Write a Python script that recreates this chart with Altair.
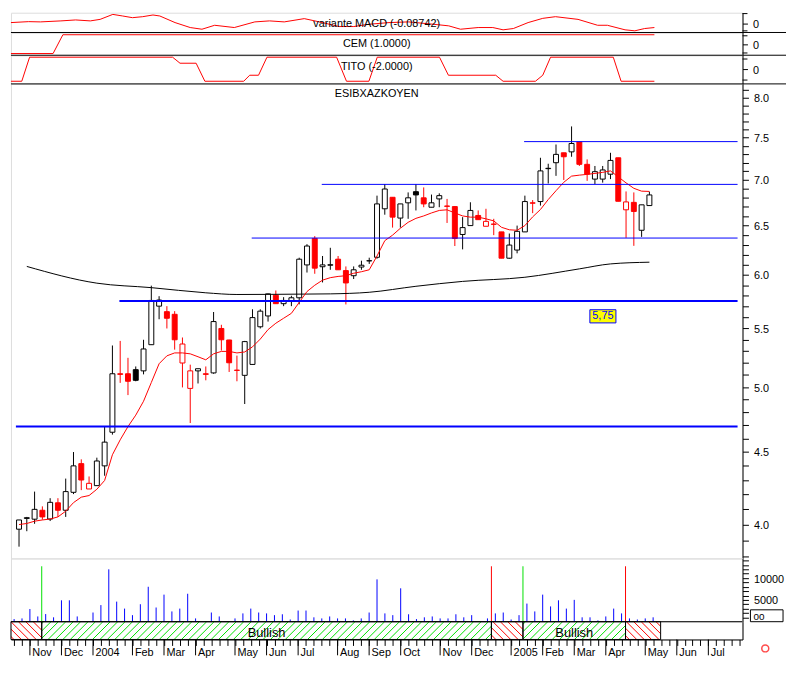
import json
import altair as alt
import numpy as np
import pandas as pd

FONT = "Liberation Sans"

# ---------------- data ----------------
WEEK = list(range(-2, 80))  # weekly candles, week 0 = first week of Nov 2003
OPEN = [3.97, 4.04, 4.035, 4.094, 4.036, 4.144, 4.094, 4.215, 4.416, 4.238,
        4.261, 4.40, 4.647, 5.11, 5.11, 5.144, 5.134, 5.357, 5.703, 5.652,
        5.628, 5.20, 4.99, 5.134, 5.11, 5.117, 5.50, 5.398, 5.14, 5.097,
        5.188, 5.515, 5.613, 5.805, 5.726, 5.748, 5.781, 6.098, 6.366, 6.08,
        6.095, 6.155, 6.042, 5.992, 6.077, 6.138, 6.174, 6.68, 6.806, 6.58,
        6.745, 6.868, 6.80, 6.697, 6.788, 6.71, 6.704, 6.407, 6.50, 6.608,
        6.493, 6.516, 6.434, 6.165, 6.247, 6.434, 6.745, 6.759, 7.13, 7.199,
        7.316, 7.327, 7.446, 7.18, 7.01, 7.01, 7.066, 7.257, 6.669, 6.75,
        6.451, 6.715]
CLOSE = [4.03, 4.045, 4.10, 4.05, 4.147, 4.094, 4.22, 4.40, 4.30, 4.277,
         4.435, 4.573, 5.11, 5.105, 5.048, 5.056, 5.32, 5.756, 5.76, 5.592,
         5.40, 5.363, 5.134, 5.152, 5.105, 5.562, 5.40, 5.202, 5.138, 5.384,
         5.598, 5.657, 5.818, 5.726, 5.756, 5.781, 6.155, 6.288, 6.066, 6.098,
         6.10, 6.05, 5.922, 6.05, 6.095, 6.14, 6.733, 6.898, 6.59, 6.733,
         6.80, 6.832, 6.733, 6.745, 6.824, 6.707, 6.366, 6.479, 6.662, 6.563,
         6.545, 6.514, 6.165, 6.298, 6.44, 6.759, 6.741, 7.104, 7.134, 7.297,
         7.269, 7.427, 7.18, 7.066, 7.095, 7.115, 7.226, 6.762, 6.755, 6.651,
         6.723, 6.832]
HIGH = [4.03, 4.05, 4.22, 4.12, 4.175, 4.175, 4.31, 4.50, 4.447, 4.325,
        4.459, 4.692, 5.35, 5.39, 5.244, 5.171, 5.40, 5.896, 5.796, 5.703,
        5.657, 5.42, 5.186, 5.152, 5.171, 5.649, 5.533, 5.40, 5.263, 5.39,
        5.674, 5.674, 5.82, 5.85, 5.787, 5.80, 6.17, 6.307, 6.39, 6.187,
        6.27, 6.187, 6.083, 6.083, 6.14, 6.17, 6.824, 6.954, 6.806, 6.733,
        6.86, 6.954, 6.916, 6.836, 6.85, 6.788, 6.71, 6.59, 6.751, 6.662,
        6.68, 6.572, 6.434, 6.417, 6.50, 6.824, 6.775, 7.257, 7.187, 7.415,
        7.316, 7.636, 7.446, 7.238, 7.161, 7.161, 7.316, 7.257, 6.871, 6.86,
        6.723, 6.868]
LOW = [3.859, 3.957, 4.005, 4.032, 4.023, 4.05, 4.05, 4.203, 4.23, 4.238,
       4.261, 4.33, 4.629, 5.035, 4.936, 5.048, 5.105, 5.357, 5.583, 5.50,
       5.314, 4.998, 4.717, 5.03, 5.056, 5.11, 5.306, 5.125, 5.048, 4.865,
       5.188, 5.50, 5.562, 5.726, 5.703, 5.703, 5.72, 6.023, 6.011, 5.927,
       6.05, 6.05, 5.719, 5.96, 6.05, 6.108, 6.16, 6.616, 6.479, 6.479,
       6.572, 6.662, 6.697, 6.697, 6.697, 6.528, 6.288, 6.254, 6.50, 6.563,
       6.493, 6.40, 6.165, 6.16, 6.214, 6.434, 6.633, 6.715, 6.96, 7.047,
       7.0, 7.269, 7.161, 6.99, 6.954, 6.97, 7.01, 6.762, 6.372, 6.29,
       6.382, 6.715]
MA_SHORT = [4.00, 4.007, 4.022, 4.03, 4.036, 4.05, 4.088, 4.145, 4.182, 4.193,
            4.236, 4.297, 4.48, 4.59, 4.69, 4.778, 4.887, 5.038, 5.194, 5.261,
            5.286, 5.286, 5.278, 5.253, 5.227, 5.278, 5.299, 5.299, 5.286, 5.294,
            5.338, 5.406, 5.49, 5.547, 5.592, 5.637, 5.738, 5.84, 5.90, 5.949,
            5.973, 5.985, 5.992, 6.016, 6.031, 6.05, 6.187, 6.343, 6.40, 6.472,
            6.535, 6.577, 6.603, 6.635, 6.662, 6.669, 6.635, 6.603, 6.59, 6.59,
            6.572, 6.55, 6.482, 6.456, 6.451, 6.50, 6.593, 6.672, 6.781, 6.879,
            6.974, 7.044, 7.055, 7.064, 7.075, 7.087, 7.104, 7.035, 6.967, 6.906,
            6.874, 6.871]
VOLUME = [600, 750, 2900, 1200, 1750, 1000, 4900, 4900, 1200, 0,
          2100, 3800, 12000, 4600, 3000, 1500, 4000, 8000, 3250, 6200,
          2350, 3000, 6400, 750, 0, 2100, 1200, 0, 750, 1900,
          3000, 2100, 1900, 1500, 1700, 500, 2550, 2550, 1000, 750,
          1200, 750, 750, 300, 750, 2100, 9700, 1900, 1500, 7650,
          1700, 600, 1000, 1200, 750, 750, 1700, 1000, 1500, 0,
          750, 1900, 2100, 500, 1500, 4150, 2350, 6200, 3500, 4900,
          3000, 5000, 1000, 1000, 300, 1200, 3000, 1900, 750, 500,
          750, 1000]
MA_LONG_WEEK = [-1, 8, 15, 22, 26, 35, 38, 43, 49, 55, 63, 70, 74, 79]
MA_LONG = [6.083, 5.92, 5.877, 5.828, 5.812, 5.816, 5.818, 5.833, 5.89, 5.937,
           5.977, 6.059, 6.108, 6.125]

MACD_WEEK = [-2.40, -0.16, 1.33, 3.93, 5.80, 7.66, 8.90, 10.51, 11.76, 13.0,
             14.30, 15.60, 16.47, 18.40, 20.32, 21.81, 23.42, 25.91, 28.51, 30.38,
             32.24, 34.78, 36.70, 39.19, 41.05, 42.97, 45.52, 48.0, 51.17, 53.09,
             54.58, 56.82, 58.68, 59.98, 61.28, 63.15, 65.01, 66.62, 69.48, 71.96,
             73.20, 75.44, 76.68, 77.92, 79.16]
MACD = [0.022, 0.043, 0.037, 0.059, 0.080, 0.059, 0.093, 0.202, 0.167, 0.130,
        0.152, 0.189, 0.167, 0.022, -0.087, -0.124, -0.037, -0.087, 0.037, 0.059,
        0.037, 0.109, 0.037, -0.065, -0.065, -0.015, 0.022, 0.037, -0.015, -0.050,
        -0.124, -0.087, -0.087, -0.137, -0.109, 0.022, 0.115, 0.152, 0.093, -0.037,
        -0.037, -0.137, -0.159, -0.109, -0.087]
CEM_WEEK = [-2.40, 2.94, 4.18, 79.16]
CEM = [-1, -1, 1, 1]
TITO_WEEK = [-2.40, -1.03, -0.04, 18.09, 19.03, 21.07, 22.18, 27.10, 27.86, 28.98,
             30.05, 38.88, 40.13, 42.97, 44.03, 51.92, 53.05, 59.05, 59.98, 64.08,
             65.01, 66.0, 73.95, 74.94, 79.16]
TITO = [-2, -2, 2, 2, 1, 1, -2, -2, -1, -1,
        2, 2, -2, -2, 2, 2, -1, -1, -2, -2,
        -1, 2, 2, -2, -2]

SUPPORT_MAJOR = [4.69, 5.75]
SUPPORT_MAJOR_FROM = [-2.4, 10.9]
SUPPORT_MINOR = [6.37, 6.95, 7.45]
SUPPORT_MINOR_FROM = [27.9, 36.9, 62.9]
TAG_TEXT = ["5,75"]
TAG_WEEK = [[71.35, 74.7]]
TAG_PRICE = [[5.55, 5.67]]

SIGNAL_WEEK = [1.5, 58.5, 62.5, 75.5]
SIGNAL_KIND = ["bull", "bear", "bull", "bear"]
SIGNAL_TOP = 12700
REGION_FROM = [-2.4, 1.5, 58.5, 62.5, 75.5]
REGION_TO = [1.5, 58.5, 62.5, 75.5, 79.95]
REGION_KIND = ["bear", "bull", "bear", "bull", "bear"]

MONTH_WEEK = [0, 4, 8, 13, 17, 21, 26, 30, 34, 39, 43, 47, 52, 56, 61, 65, 69, 73, 78, 82, 86]
MONTH_LABEL = ["Nov", "Dec", "2004", "Feb", "Mar", "Apr", "May", "Jun", "Jul", "Aug", "Sep",
               "Oct", "Nov", "Dec", "2005", "Feb", "Mar", "Apr", "May", "Jun", "Jul"]

# ---------------- layout ----------------
W = 740
XMIN, XMAX = -2.4, 90.33
H_MACD, H_CEM, H_TITO, H_PRICE, H_VOL, H_BAND = 20, 23, 29, 480, 64, 18
PRICE_DOMAIN = [3.786, 8.182]
VOL_DOMAIN = [0, 14500]
MACD_DOMAIN = [-0.196, 0.239]
CEM_DOMAIN = [-1.18, 1.24]
TITO_DOMAIN = [-2.44, 2.33]
HATCH_PX = 7.5

RED = "#FF0000"
BLUE = "#0000FF"
GREEN = "#00E000"

xs = alt.Scale(domain=[XMIN, XMAX], nice=False, zero=False)
kind_scale = alt.Scale(domain=["bull", "bear"], range=[GREEN, RED])
one = pd.DataFrame({"k": [0]})


def raxis(values, expr, tick=6, domain=True):
    return alt.Axis(orient="right", values=values, labelExpr=expr, tickSize=tick,
                    labelPadding=5, domain=domain, domainColor="black", tickColor="black",
                    labelColor="black", labelFont=FONT, labelFontSize=11, title=None,
                    grid=False, labelOverlap=False, labelFlush=False,
                    labelBaseline="alphabetic", labelOffset=4,
                    domainWidth=1, tickWidth=1)


def sep():
    return alt.Chart(one).mark_rule(color="black", strokeWidth=1).encode(
        x=alt.value(0), x2=alt.value(W + 44), y=alt.value(0))


def caption(text, y):
    return alt.Chart(pd.DataFrame({"t": [text]})).mark_text(
        font=FONT, fontSize=11, color="black", align="center", baseline="alphabetic"
    ).encode(x=alt.value(W / 2), y=alt.value(y + 4), text="t:N")


def indicator(weeks, vals, domain, ticks, title, ty, h, top_line):
    df = pd.DataFrame({"week": weeks, "v": vals})
    sc = alt.Scale(domain=domain, nice=False, zero=False)
    ax = raxis([0], "'0'", 5)
    line = alt.Chart(df).mark_line(color=RED, strokeWidth=1).encode(
        x=alt.X("week:Q", scale=xs, axis=None),
        y=alt.Y("v:Q", scale=sc, axis=ax))
    extra = alt.Chart(pd.DataFrame({"v": ticks})).mark_rule(
        color="black", strokeWidth=1).encode(
        x=alt.value(W), x2=alt.value(W + 5), y=alt.Y("v:Q", scale=sc, axis=ax))
    layers = [line, extra, caption(title, ty)]
    if top_line:
        layers.append(sep())
    return alt.layer(*layers).properties(width=W, height=h)


macd = indicator(MACD_WEEK, MACD, MACD_DOMAIN, [-0.16, 0.22],
                 "variante MACD (-0.08742)", 10, H_MACD, False)
cem = indicator(CEM_WEEK, CEM, CEM_DOMAIN, [-0.94, 0.89],
                "CEM (1.0000)", 10.5, H_CEM, True)
tito = indicator(TITO_WEEK, TITO, TITO_DOMAIN, [-1.8, 1.7],
                 "TITO (-2.0000)", 10.5, H_TITO, True)

# ---------------- price panel ----------------
c = pd.DataFrame({"week": WEEK, "open": OPEN, "high": HIGH, "low": LOW, "close": CLOSE})
prev = c["close"].shift(1).fillna(c["open"])
c["col"] = np.where(c["close"] >= prev, "black", RED)
c["fillc"] = np.where(c["close"] >= c["open"], "white", c["col"])

ys = alt.Scale(type="log", domain=PRICE_DOMAIN, nice=False, zero=False)
price_ticks = [round(3.8 + 0.1 * i, 1) for i in range(44)]
PA = raxis(price_ticks,
           "abs(datum.value * 2 - round(datum.value * 2)) < 0.01 ? format(datum.value, '.1f') : ''")
xnone = alt.X("week:Q", scale=xs, axis=None)


def py(field):
    return alt.Y(field, scale=ys, axis=PA)


wicks = alt.Chart(c).mark_rule(strokeWidth=1).encode(
    x=xnone, y=py("low:Q"), y2="high:Q",
    color=alt.Color("col:N", scale=None))
bodies = alt.Chart(c).mark_bar(size=5, strokeWidth=1).encode(
    x=xnone, y=py("open:Q"), y2="close:Q",
    fill=alt.Fill("fillc:N", scale=None), stroke=alt.Stroke("col:N", scale=None))

ma_s = alt.Chart(pd.DataFrame({"week": WEEK, "ma": MA_SHORT})).mark_line(
    color=RED, strokeWidth=1).encode(x=xnone, y=py("ma:Q"))
ma_l = alt.Chart(pd.DataFrame({"week": MA_LONG_WEEK, "ma": MA_LONG})).mark_line(
    color="black", strokeWidth=1, interpolate="monotone").encode(x=xnone, y=py("ma:Q"))


def supports(levels, starts, width):
    df = pd.DataFrame({"level": levels, "start": starts, "end": [XMAX] * len(levels)})
    return alt.Chart(df).mark_rule(color=BLUE, strokeWidth=width).encode(
        x=alt.X("start:Q", scale=xs, axis=None), x2="end:Q", y=py("level:Q"))


tag_df = pd.DataFrame({"t": TAG_TEXT,
                       "x1": [w[0] for w in TAG_WEEK], "x2": [w[1] for w in TAG_WEEK],
                       "y1": [p[0] for p in TAG_PRICE], "y2": [p[1] for p in TAG_PRICE]})
tag_df["xm"] = (tag_df["x1"] + tag_df["x2"]) / 2
tag_df["ym"] = np.sqrt(tag_df["y1"] * tag_df["y2"])
tag_box = alt.Chart(tag_df).mark_rect(fill="#FFFF00", stroke=BLUE, strokeWidth=1).encode(
    x=alt.X("x1:Q", scale=xs, axis=None), x2="x2:Q", y=py("y1:Q"), y2="y2:Q")
tag_txt = alt.Chart(tag_df).mark_text(font=FONT, fontSize=11, color=BLUE,
                                      align="center", baseline="middle").encode(
    x=alt.X("xm:Q", scale=xs, axis=None), y=py("ym:Q"), text="t:N")

price = alt.layer(
    wicks, bodies, ma_l, ma_s,
    supports(SUPPORT_MAJOR, SUPPORT_MAJOR_FROM, 2),
    supports(SUPPORT_MINOR, SUPPORT_MINOR_FROM, 1),
    tag_box, tag_txt,
    caption("ESIBXAZKOYEN", 9.5), sep(),
).properties(width=W, height=H_PRICE)

# ---------------- volume panel ----------------
v = pd.DataFrame({"week": WEEK, "vol": VOLUME})
v["base"] = 0
vs = alt.Scale(domain=VOL_DOMAIN, nice=False, zero=False)
VA = raxis(list(range(1000, 15000, 1000)),
           "datum.value % 5000 == 0 ? '' + datum.value : ''")
vol_bars = alt.Chart(v).mark_rule(color=BLUE, strokeWidth=1).encode(
    x=xnone, y=alt.Y("vol:Q", scale=vs, axis=VA), y2="base:Q")
sig = pd.DataFrame({"week": SIGNAL_WEEK, "kind": SIGNAL_KIND,
                    "top": [SIGNAL_TOP] * len(SIGNAL_WEEK), "base": [0] * len(SIGNAL_WEEK)})
sig_rules = alt.Chart(sig).mark_rule(strokeWidth=1).encode(
    x=xnone, y=alt.Y("top:Q", scale=vs, axis=VA), y2="base:Q",
    color=alt.Color("kind:N", scale=kind_scale, legend=None))
box00 = alt.Chart(one).mark_rect(fill="white", stroke="black", strokeWidth=1).encode(
    x=alt.value(W + 8), x2=alt.value(W + 41), y=alt.value(H_VOL - 12), y2=alt.value(H_VOL))
txt00 = alt.Chart(pd.DataFrame({"t": ["00"]})).mark_text(
    font=FONT, fontSize=10, color="black", align="left", baseline="alphabetic").encode(
    x=alt.value(W + 11), y=alt.value(H_VOL - 2), text="t:N")
vol = alt.layer(vol_bars, sig_rules, box00, txt00).properties(width=W, height=H_VOL)

# ---------------- signal band panel ----------------
pxw = W / (XMAX - XMIN)
hw = H_BAND / pxw
sw = HATCH_PX / pxw
segs = []
for a, b, kind in zip(REGION_FROM, REGION_TO, REGION_KIND):
    k0 = int(np.floor((a - hw - XMIN) / sw)) - 1
    k1 = int(np.ceil((b - XMIN) / sw)) + 1
    for k in range(k0, k1 + 1):
        x0 = XMIN + k * sw
        t_lo = max(0.0, (a - x0) / hw)
        t_hi = min(1.0, (b - x0) / hw)
        if t_hi - t_lo <= 1e-6:
            continue
        xa, xb = x0 + hw * t_lo, x0 + hw * t_hi
        if kind == "bull":
            ya, yb = t_lo, t_hi
        else:
            ya, yb = 1 - t_lo, 1 - t_hi
        segs.append({"x": xa, "x2": xb, "y": ya, "y2": yb, "kind": kind})
hatch_df = pd.DataFrame(segs)

bs = alt.Scale(domain=[0, 1], nice=False, zero=False)
month_expr = "indexof(%s, datum.value) >= 0 ? %s[indexof(%s, datum.value)] : ''" % (
    json.dumps(MONTH_WEEK), json.dumps(MONTH_LABEL), json.dumps(MONTH_WEEK))
XA = alt.Axis(orient="bottom", values=list(range(-2, 91)), labelExpr=month_expr,
              tickSize=6, labelPadding=1, labelAlign="left", labelBaseline="top",
              labelOffset=2, labelFont=FONT, labelFontSize=11, labelColor="black",
              domainColor="black", tickColor="black", labelOverlap=False,
              labelFlush=False, grid=False, title=None, domainWidth=1, tickWidth=1)
BYA = alt.Axis(orient="right", ticks=False, labels=False, domain=True,
               domainColor="black", title=None, grid=False)


def bx(field):
    return alt.X(field, scale=xs, axis=XA)


def by(field):
    return alt.Y(field, scale=bs, axis=BYA)


hatch = alt.Chart(hatch_df).mark_rule(strokeWidth=1).encode(
    x=bx("x:Q"), x2="x2:Q", y=by("y:Q"), y2="y2:Q",
    color=alt.Color("kind:N", scale=kind_scale, legend=None))
reg = pd.DataFrame({"from": REGION_FROM, "to": REGION_TO, "kind": REGION_KIND})
reg["y0"] = 0
reg["y1"] = 1
regions = alt.Chart(reg).mark_rect(filled=False, color="black", strokeWidth=1).encode(
    x=bx("from:Q"), x2="to:Q", y=by("y0:Q"), y2="y1:Q")
bull = reg[reg["kind"] == "bull"].copy()
bull["mid"] = (bull["from"] + bull["to"]) / 2
bull["label"] = "Bullish"
bull_txt = alt.Chart(bull).mark_text(font=FONT, fontSize=13, color="black",
                                     align="center", baseline="alphabetic").encode(
    x=bx("mid:Q"), y=alt.value(H_BAND - 3), text="label:N")
top_line = alt.Chart(one).mark_rule(color="black", strokeWidth=1).encode(
    x=alt.value(0), x2=alt.value(W), y=alt.value(0))
month_ticks = alt.Chart(pd.DataFrame({"week": MONTH_WEEK})).mark_rule(
    color="black", strokeWidth=1).encode(
    x=bx("week:Q"), y=alt.value(H_BAND), y2=alt.value(H_BAND + 16))
icon = alt.Chart(one).mark_point(shape="circle", color=RED, size=50, strokeWidth=1.5).encode(
    x=alt.value(W + 23), y=alt.value(H_BAND + 9))
band = alt.layer(hatch, regions, bull_txt, top_line, month_ticks, icon).properties(
    width=W, height=H_BAND)

chart = alt.vconcat(macd, cem, tito, price, vol, band, spacing=0, bounds="flush",
                    padding=0).configure_view(stroke=None).configure(background="white")

chart.save("out.html", embed_options={"renderer": "svg", "actions": False})
